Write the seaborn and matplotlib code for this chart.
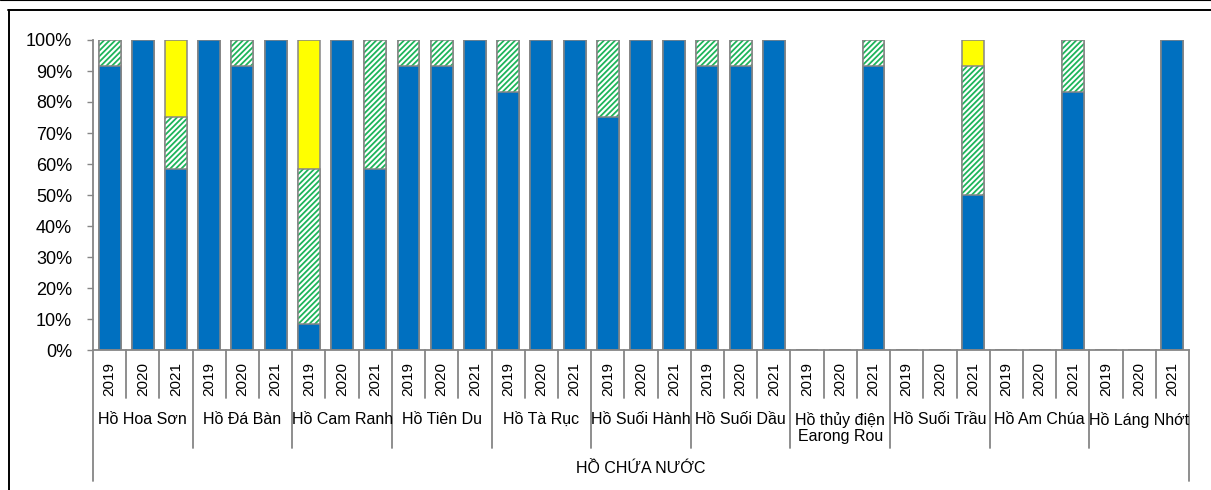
import numpy as np
import pandas as pd
import matplotlib
matplotlib.use("Agg")
import matplotlib.pyplot as plt
import seaborn as sns
from matplotlib.transforms import blended_transform_factory
from matplotlib.lines import Line2D

# ---------------- data ----------------
groups = ["Hồ Hoa Sơn", "Hồ Đá Bàn", "Hồ Cam Ranh", "Hồ Tiên Du", "Hồ Tà Rục",
          "Hồ Suối Hành", "Hồ Suối Dầu", "Hồ thủy điện\nEarong Rou", "Hồ Suối Trầu",
          "Hồ Am Chúa", "Hồ Láng Nhớt"]
years = ["2019", "2020", "2021"]
axis_title = "HỒ CHỨA NƯỚC"

blue = [91.67, 100, 58.33,   100, 91.67, 100,   8.33, 100, 58.33,   91.67, 91.67, 100,
        83.33, 100, 100,     75, 100, 100,      91.67, 91.67, 100,  0, 0, 91.67,
        0, 0, 50,            0, 0, 83.33,       0, 0, 100]
green = [8.33, 0, 16.67,     0, 8.33, 0,        50, 0, 41.67,       8.33, 8.33, 0,
         16.67, 0, 0,        25, 0, 0,          8.33, 8.33, 0,      0, 0, 8.33,
         0, 0, 41.67,        0, 0, 16.67,       0, 0, 0]
yellow = [0, 0, 25,          0, 0, 0,           41.67, 0, 0,        0, 0, 0,
          0, 0, 0,           0, 0, 0,           0, 0, 0,            0, 0, 0,
          0, 0, 8.33,        0, 0, 0,           0, 0, 0]
yticks = [0, 10, 20, 30, 40, 50, 60, 70, 80, 90, 100]

# ---------------- styling ----------------
C_BLUE = "#0070C0"
C_GREEN = "#1DB45A"
C_YELLOW = "#FFFF00"
C_EDGE = "#868686"
C_AXIS = "#868686"

sns.set_style("white")
plt.rcParams["font.family"] = ["Liberation Sans", "DejaVu Sans"]
plt.rcParams["hatch.linewidth"] = 1.3

W, H = 1211, 490
fig = plt.figure(figsize=(W / 100, H / 100), dpi=100)
ax = fig.add_axes([93 / W, 1 - 350 / H, (1189 - 93) / W, (350 - 40) / H])

cats = [f"{g}|{y}" for g in groups for y in years]
df = pd.DataFrame({"cat": cats, "blue": blue, "green": green, "yellow": yellow})
df["bg"] = df["blue"] + df["green"]
df["total"] = df["bg"] + df["yellow"]

bw = 0.66
lw = 1.1
common = dict(x="cat", order=cats, errorbar=None, width=bw, saturation=1, ax=ax)

# yellow (top segment) drawn as full stack height
sns.barplot(data=df, y="total", color=C_YELLOW, edgecolor=C_EDGE, linewidth=lw, **common)
# green hatched middle segment
sns.barplot(data=df, y="bg", color="white", edgecolor=C_GREEN, linewidth=0,
            hatch="//////", **common)
# outline of middle segment
sns.barplot(data=df, y="bg", color=C_EDGE, fill=False, linewidth=lw, **common)
# blue bottom segment
sns.barplot(data=df, y="blue", color=C_BLUE, edgecolor=C_EDGE, linewidth=lw, **common)

n = len(cats)
ax.set_xlim(-0.5, n - 0.5)
ax.set_ylim(0, 100)
ax.set_yticks(yticks)
ax.set_yticklabels([f"{v}%" for v in yticks], fontsize=13, color="black")
ax.tick_params(axis="y", direction="out", length=4, width=1, color=C_AXIS, pad=11, left=True)
ax.set_xticks([])
ax.set_xlabel("")
ax.set_ylabel("")
for s in ["top", "right"]:
    ax.spines[s].set_visible(False)
for s in ["left", "bottom"]:
    ax.spines[s].set_color(C_AXIS)
    ax.spines[s].set_linewidth(1.3)

tr = blended_transform_factory(ax.transData, fig.transFigure)
def fy(px):
    return 1 - px / H

# year labels
for i, c in enumerate(cats):
    yr = c.split("|")[1]
    ax.text(i, fy(379), yr, rotation=90, ha="center", va="center",
            fontsize=11, color="black", transform=tr)

# separators
for k in range(n + 1):
    xb = k - 0.5
    if k == 0 or k == n:
        y_end = 481
    elif k % 3 == 0:
        y_end = 448
    else:
        y_end = 398
    ax.add_line(Line2D([xb, xb], [fy(350), fy(y_end)], color=C_AXIS, lw=1.3,
                       transform=tr, clip_on=False))

# group labels
for g_i, g in enumerate(groups):
    ax.text(3 * g_i + 1, fy(412), g, ha="center", va="top", fontsize=11.5,
            color="black", linespacing=1.1, transform=tr)

ax.text((n - 1) / 2, fy(468), axis_title, ha="center", va="center", fontsize=11.5,
        color="black", transform=tr)

# outer frame fragments
fig.add_artist(Line2D([0, 1], [fy(0.5), fy(0.5)], color="black", lw=0.8,
                      transform=fig.transFigure))
fig.add_artist(Line2D([8 / W, 1], [fy(10.5), fy(10.5)], color="black", lw=1.4,
                      transform=fig.transFigure))
fig.add_artist(Line2D([8.5 / W, 8.5 / W], [fy(10.5), 0], color="black", lw=1.4,
                      transform=fig.transFigure))

fig.savefig("out.png", dpi=100)
